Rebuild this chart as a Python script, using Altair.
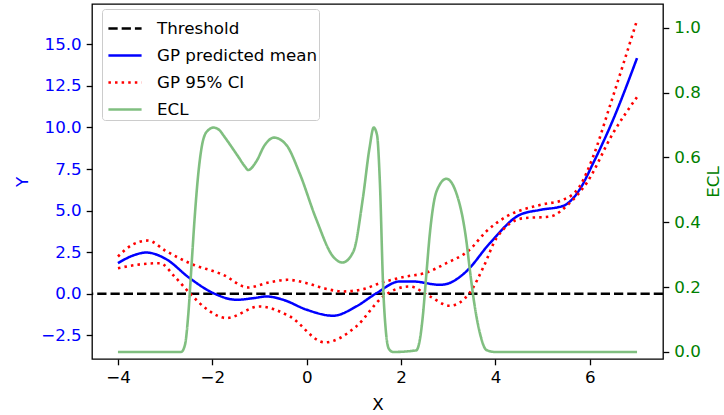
import altair as alt
import pandas as pd

# ---------------- data ----------------
series_names = ["Threshold", "GP predicted mean", "GP 95% CI", "ECL"]

threshold_y = [0.0]

mean_x = [-4, -3.7, -3.4, -3.0, -2.48, -1.98, -1.49, -1.1, -0.85, -0.5, 0, 0.56, 1.05,
          1.48, 1.97, 2.25, 2.82, 3.0, 3.38, 3.88, 4.51, 4.94, 5.43, 5.78, 6.07, 6.49, 7.0]
mean_y = [1.84, 2.28, 2.48, 2.12, 0.94, 0.04, -0.36, -0.25, -0.16, -0.36, -0.96, -1.32, -0.76,
          0.04, 0.74, 0.74, 0.54, 0.62, 1.34, 3.04, 4.74, 5.04, 5.28, 6.25, 7.85, 10.45, 14.17]

upper_x = [-4, -3.7, -3.36, -3.0, -2.48, -1.77, -1.24, -0.8, -0.4, 0, 0.35, 0.77, 1.2,
           1.55, 2.11, 2.5, 2.96, 3.45, 3.8, 4.23, 4.94, 5.43, 5.78, 6.07, 6.42, 7.0]
upper_y = [2.24, 2.94, 3.2, 2.6, 1.84, 1.14, 0.38, 0.68, 0.84, 0.64, 0.34, 0.14, 0.28,
           0.64, 1.04, 1.24, 1.84, 2.64, 3.74, 4.64, 5.34, 5.65, 6.44, 8.25, 11.25, 16.45]

lower_x = [-4, -3.5, -3.11, -2.8, -2.48, -2.1, -1.7, -1.0, -0.36, 0.38, 1.05, 1.62, 2.18,
           2.61, 3.03, 3.45, 3.75, 4.02, 4.58, 5.15, 5.57, 5.93, 6.49, 7.0]
lower_y = [1.54, 1.78, 1.84, 1.04, 0.04, -0.96, -1.46, -0.76, -1.36, -2.92, -1.96, -0.16, 0.44,
           -0.16, -0.72, 0.04, 1.64, 3.34, 4.54, 4.64, 5.45, 6.65, 9.65, 11.83]

ecl_x = [-4, -2.66, -2.58, -2.51, -2.44, -2.37, -2.30, -2.23, -2.12, -1.97, -1.85, -1.75,
         -1.6, -1.45, -1.31, -1.24, -1.07, -0.89, -0.69, -0.43, -0.15, 0.2, 0.56, 0.76, 0.99,
         1.19, 1.33, 1.42, 1.49, 1.55, 1.62, 1.68, 1.74, 1.83, 2.32, 2.4, 2.46, 2.53, 2.61,
         2.75, 2.96, 3.17, 3.38, 3.46, 3.53, 3.67, 3.81, 4.0, 7.0]
ecl_y = [0, 0, 0.022, 0.115, 0.269, 0.423, 0.546, 0.628, 0.679, 0.692, 0.684, 0.665,
         0.634, 0.602, 0.572, 0.561, 0.587, 0.638, 0.661, 0.638, 0.551, 0.41, 0.294, 0.276, 0.31,
         0.474, 0.628, 0.692, 0.669, 0.525, 0.2, 0.06, 0.01, 0, 0.005, 0.04, 0.11, 0.23, 0.366,
         0.495, 0.534, 0.49, 0.346, 0.25, 0.171, 0.058, 0.006, 0, 0]

x_ticks = [-4, -2, 0, 2, 4, 6]
y_ticks = [-2.5, 0.0, 2.5, 5.0, 7.5, 10.0, 12.5, 15.0]
ecl_ticks = [0.0, 0.2, 0.4, 0.6, 0.8, 1.0]

# ---------------- tables ----------------
df_thr = pd.DataFrame({"y": threshold_y, "series": "Threshold"})
df_mean = pd.DataFrame({"x": mean_x, "y": mean_y, "series": "GP predicted mean"})
df_ci = pd.concat([
    pd.DataFrame({"x": upper_x, "y": upper_y, "bound": "upper"}),
    pd.DataFrame({"x": lower_x, "y": lower_y, "bound": "lower"}),
])
df_ci["series"] = "GP 95% CI"
df_ecl = pd.DataFrame({"x": ecl_x, "ecl": ecl_y, "series": "ECL"})

FONT = "DejaVu Sans"
FS = 16.7

legend = alt.Legend(
    title=None, orient="none", legendX=10, legendY=5,
    symbolType="stroke", symbolSize=1100, symbolStrokeWidth=2.6, symbolOffset=3.5,
    labelFontSize=FS, labelFont=FONT, labelColor="black", labelOffset=14, labelLimit=400,
    padding=1.5, rowPadding=-1.2, fillColor="rgba(255,255,255,0.8)",
    strokeColor="#cccccc", cornerRadius=3,
)
color = alt.Color("series:N", scale=alt.Scale(domain=series_names,
                  range=["black", "blue", "red", "#80bf80"]), legend=legend)
dash = alt.StrokeDash("series:N", scale=alt.Scale(domain=series_names,
                      range=[[9.25, 4], [1, 0], [2.5, 4.1], [1, 0]]), legend=legend)

xscale = alt.Scale(domain=[-4.55, 7.55], nice=False, zero=False)
xaxis = alt.Axis(values=x_ticks, title="X", format="d", grid=False)
yscale = alt.Scale(domain=[-3.92, 17.42], nice=False, zero=False)
yaxis = alt.Axis(values=y_ticks, format=".1f", title="Y", grid=False,
                 labelColor="blue", titleColor="blue", titlePadding=9)
escale = alt.Scale(domain=[-0.0216, 1.073], nice=False, zero=False)
eaxis = alt.Axis(values=ecl_ticks, format=".1f", title="ECL", orient="right", grid=False,
                 labelColor="green", titleColor="green", titleAngle=270, titlePadding=22)

thr = alt.Chart(df_thr).mark_rule(strokeWidth=2.5).encode(
    y=alt.Y("y:Q", scale=yscale, axis=yaxis), color=color, strokeDash=dash)
mean = alt.Chart(df_mean).mark_line(strokeWidth=2.5, interpolate="monotone").encode(
    x=alt.X("x:Q", scale=xscale, axis=xaxis),
    y=alt.Y("y:Q", scale=yscale, axis=yaxis), color=color, strokeDash=dash)
ci = alt.Chart(df_ci).mark_line(strokeWidth=2.6, interpolate="monotone").encode(
    x=alt.X("x:Q", scale=xscale, axis=xaxis),
    y=alt.Y("y:Q", scale=yscale, axis=yaxis), color=color, strokeDash=dash, detail="bound:N")
left = alt.layer(thr, mean, ci)

ecl = alt.Chart(df_ecl).mark_line(strokeWidth=2.6, interpolate="monotone").encode(
    x=alt.X("x:Q", scale=xscale, axis=xaxis),
    y=alt.Y("ecl:Q", scale=escale, axis=eaxis), color=color, strokeDash=dash)

chart = alt.layer(left, ecl).resolve_scale(y="independent").properties(
    width=571, height=355,
    autosize=alt.AutoSizeParams(type="none"),
    padding={"left": 92, "top": 4, "right": 61, "bottom": 56},
).configure_view(stroke="black", strokeWidth=1.3).configure_axis(
    domain=False, ticks=True, tickColor="black", tickWidth=1.3, tickSize=5.8,
    labelPadding=5, labelFont=FONT, labelFontSize=FS, titleFont=FONT,
    titleFontSize=FS, titleFontWeight="normal", labelColor="black",
).configure_axisX(titlePadding=10)

chart.save("out.html", embed_options={"renderer": "svg", "actions": False})
